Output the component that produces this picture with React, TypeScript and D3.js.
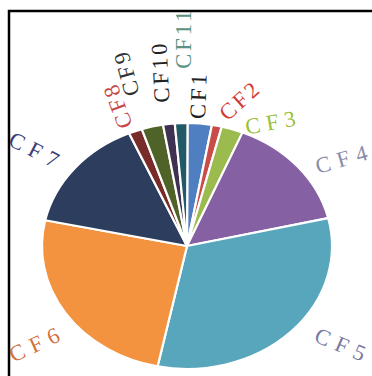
import React from "react";
import * as d3 from "d3";

// Share of each CF category (percent)
const categories = ["CF1", "CF2", "CF3", "CF4", "CF5", "CF6", "CF7", "CF8", "CF9", "CF10", "CF11"];
const shares = [2.7, 1.1, 2.4, 15.1, 31.9, 25.1, 15.1, 1.5, 2.4, 1.3, 1.4];

const sliceColors = [
  "#4f7fc0", "#c94c48", "#9bbb4e", "#8560a3", "#58a6bb", "#f3923f",
  "#2c3d5e", "#772c2a", "#4f6228", "#3f3151", "#215a66",
];
const labelColors = [
  "#222222", "#d23a34", "#9cbf3a", "#8a8aa8", "#7a7aa0", "#d4703c",
  "#3c3c78", "#c84848", "#333333", "#222222", "#5a9383",
];

// Label placement: angular nudge from slice middle (deg), radius factor, rotation (deg), letter spacing
const labelLayout = [
  { dA: -1.4, k: 1.23, rot: -88, ls: 3 },
  { dA: 5.3, k: 1.24, rot: -42, ls: 3 },
  { dA: 12.4, k: 1.17, rot: -10, ls: 6 },
  { dA: 7.1, k: 1.3, rot: -16, ls: 7 },
  { dA: -7.4, k: 1.35, rot: 23, ls: 7 },
  { dA: -4.4, k: 1.3, rot: -25, ls: 7 },
  { dA: -2.6, k: 1.29, rot: 27, ls: 7 },
  { dA: -1.9, k: 1.24, rot: -111, ls: 3 },
  { dA: -2.7, k: 1.47, rot: -105, ls: 3 },
  { dA: -0.2, k: 1.43, rot: -93, ls: 3 },
  { dA: 1.6, k: 1.69, rot: -90, ls: 3 },
];

const W = 372;
const H = 376;
const cx = 187;
const cy = 246;
const rx = 145;
const ry = 123;

export default function App() {
  const pie = d3
    .pie<number>()
    .sort(null)
    .value((d) => d)
    .startAngle((0.2 * Math.PI) / 180)
    .endAngle(2 * Math.PI + (0.2 * Math.PI) / 180);
  const arcs = pie(shares);
  const arc = d3.arc<d3.PieArcDatum<number>>().innerRadius(0).outerRadius(rx);

  return (
    <svg
      width={W}
      height={H}
      style={{ position: "absolute", left: 0, top: 0, background: "#fff" }}
    >
      <rect x={0} y={0} width={W} height={H} fill="#fff" />
      <g transform={`translate(${cx},${cy}) scale(1,${ry / rx})`}>
        {arcs.map((a, i) => (
          <path
            key={categories[i]}
            d={arc(a) || ""}
            fill={sliceColors[i]}
            stroke="#fff"
            strokeWidth={2.2}
            vectorEffect="non-scaling-stroke"
            strokeLinejoin="round"
          />
        ))}
      </g>
      {arcs.map((a, i) => {
        const L = labelLayout[i];
        const mid = (a.startAngle + a.endAngle) / 2 + (L.dA * Math.PI) / 180;
        const x = cx + rx * L.k * Math.sin(mid);
        const y = cy - ry * L.k * Math.cos(mid);
        return (
          <text
            key={categories[i]}
            transform={`translate(${x},${y}) rotate(${L.rot})`}
            textAnchor="middle"
            dominantBaseline="central"
            fontFamily="'Liberation Serif', 'DejaVu Serif', serif"
            fontSize={22.5}
            letterSpacing={L.ls}
            fill={labelColors[i]}
          >
            {categories[i]}
          </text>
        );
      })}
      <path
        d={`M9,${H} V11 H${W}`}
        fill="none"
        stroke="#000"
        strokeWidth={2.5}
      />
    </svg>
  );
}
